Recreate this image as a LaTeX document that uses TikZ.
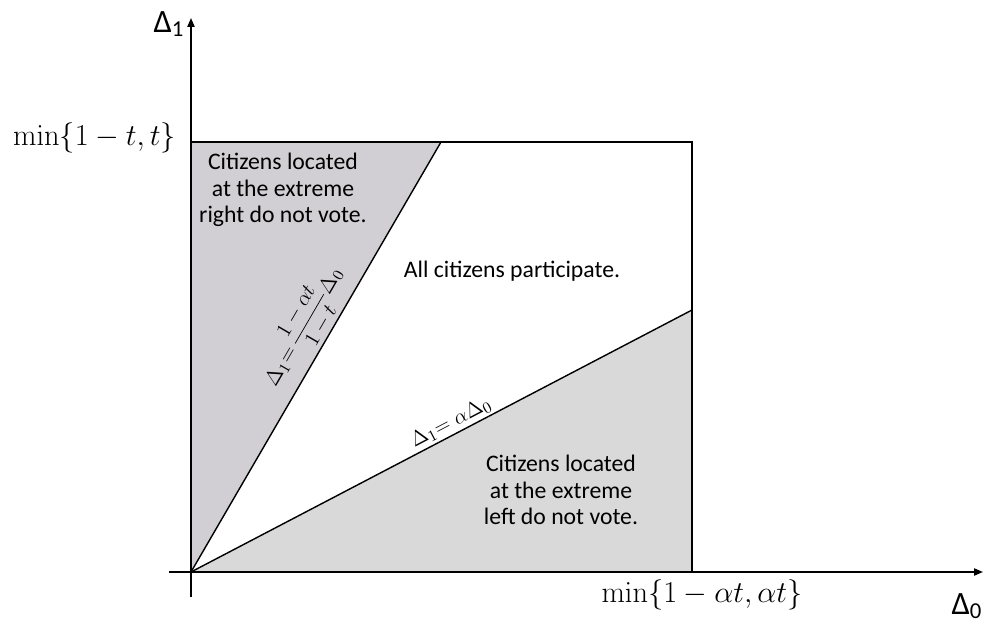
\documentclass[tikz,border=0pt]{standalone}
\usepackage[no-math]{fontspec}
\setmainfont{Carlito}
\usetikzlibrary{arrows.meta}

\definecolor{shadeup}{RGB}{209,207,211}
\definecolor{shadelow}{RGB}{217,217,217}

\tikzset{
    region/.style={font=\fontsize{13.5}{15.2}\selectfont, align=center},
    axis/.style={line width=0.9pt, -{Triangle[length=5pt,width=4pt]}},
    bound/.style={line width=0.8pt},
    linelabel/.style={font=\fontsize{12.5}{14}\selectfont, sloped, above, inner sep=1.5pt},
    axlabel/.style={font=\fontsize{18.5}{22}\selectfont},
    ticklabel/.style={font=\fontsize{16.5}{19}\selectfont},
}

\begin{document}
\begin{tikzpicture}[x=0.02cm, y=0.02cm]
    \useasboundingbox (-191,-51) rectangle (807,572);

    % Corners of the feasible box and end points of the two boundary lines
    \coordinate (O) at (0,0);
    \coordinate (TL) at (0,430);
    \coordinate (TR) at (501,430);
    \coordinate (BR) at (501,0);
    \coordinate (S) at (250,430);
    \coordinate (L) at (501,262);

    % Shaded regions
    \fill[shadeup] (O) -- (TL) -- (S) -- cycle;
    \fill[shadelow] (O) -- (BR) -- (L) -- cycle;

    % Boundary lines
    \draw[bound] (O) -- (S)
        node[linelabel, pos=0.54] {$\Delta_1{=}\,\displaystyle\frac{1-\alpha t}{1-t}\Delta_0$};
    \draw[bound] (O) -- (L)
        node[linelabel, pos=0.53] {$\Delta_1{=}\;\alpha\Delta_0$};

    % Box
    \draw[line width=1.1pt] (TL) -- (TR) -- (BR) -- (O) -- cycle;

    % Axes
    \draw[axis] (0,-25) -- (0,554);
    \draw[axis] (-22,0) -- (792,0);
    \node[axlabel] (ylab) at (-22,548) {Δ\textsubscript{1}};
    \node[axlabel] (xlab) at (776,-34) {Δ\textsubscript{0}};

    % Box limits
    \node[ticklabel, anchor=east] (ymax) at (-9,434) {$\min\{1-t,t\}$};
    \node[ticklabel] (xmax) at (511,-23) {$\min\{1-\alpha t,\alpha t\}$};

    % Region texts
    \node[region] (right) at (92,382) {Citizens located\\at the extreme\\right do not vote.};
    \node[region] (all) at (321,301) {All citizens participate.};
    \node[region] (left) at (370,82) {Citizens located\\at the extreme\\left do not vote.};
\end{tikzpicture}
\end{document}
